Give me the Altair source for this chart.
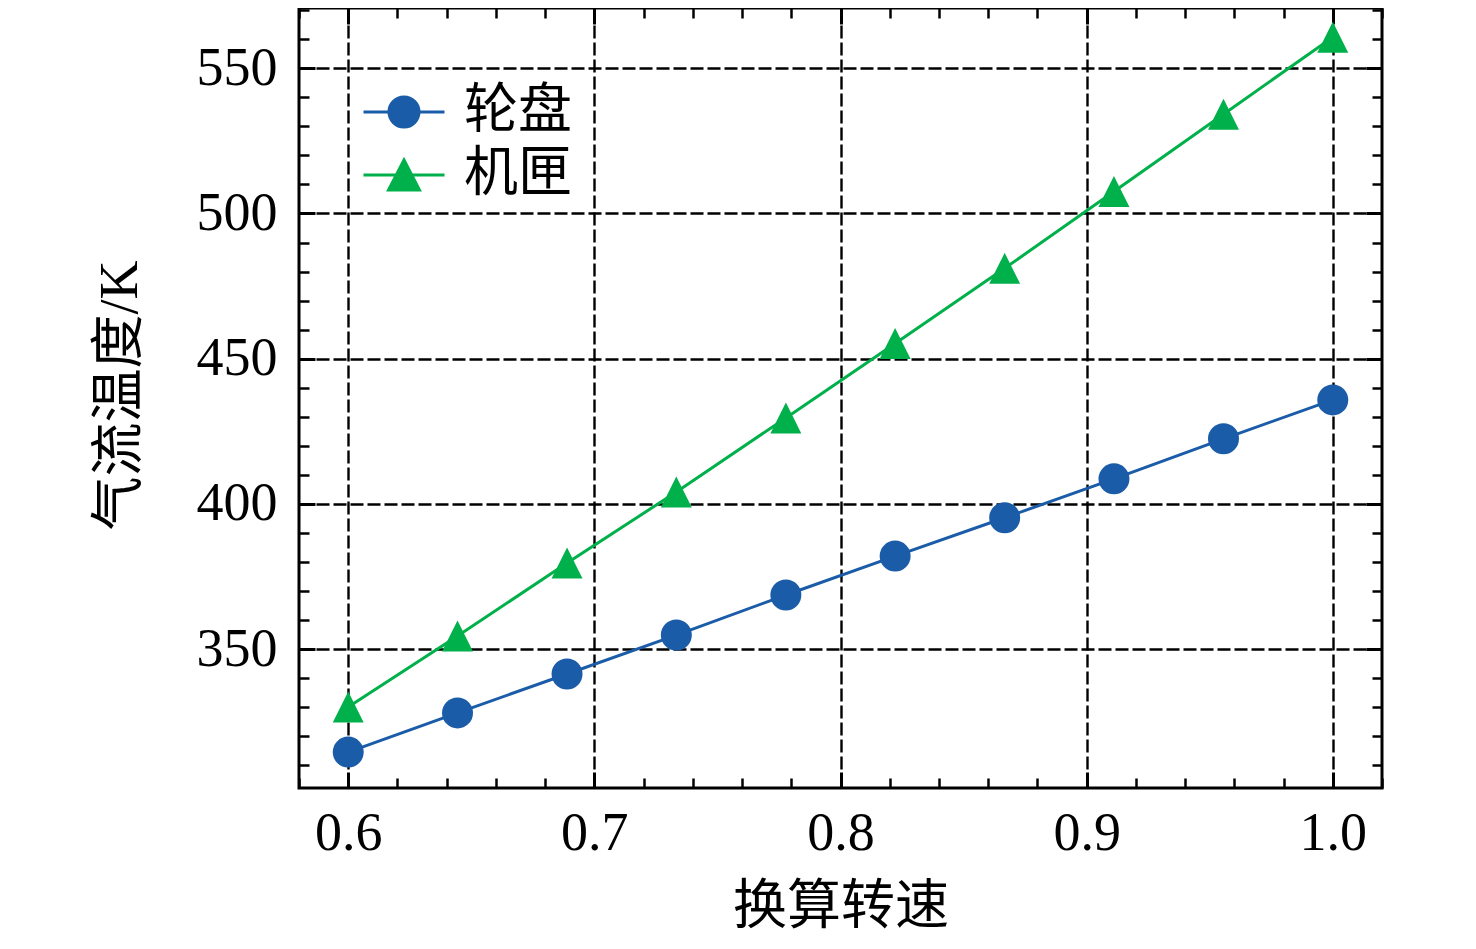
import altair as alt
import pandas as pd

# ---- data ----
speed = [0.6, 0.6444, 0.6889, 0.7333, 0.7778, 0.8222, 0.8667, 0.9111, 0.9556, 1.0]
disk = [314.5, 328.0, 341.4, 354.8, 368.6, 382.0, 395.2, 408.6, 422.4, 435.8]
casing = [330.0, 354.5, 379.6, 404.1, 429.6, 455.2, 481.1, 507.6, 534.2, 560.7]
series_names = ["轮盘", "机匣"]
colors = ["#1A5CA8", "#00B04A"]

x_major = [0.6, 0.7, 0.8, 0.9, 1.0]
x_minor = [0.58, 0.62, 0.64, 0.66, 0.68, 0.72, 0.74, 0.76, 0.78, 0.82,
           0.84, 0.86, 0.88, 0.92, 0.94, 0.96, 0.98, 1.02]
y_major = [350, 400, 450, 500, 550]
y_minor = [310, 320, 330, 340, 360, 370, 380, 390, 410, 420, 430, 440,
           460, 470, 480, 490, 510, 520, 530, 540, 560, 570]

x_title = "换算转速"
y_title = "气流温度/K"

df_disk = pd.DataFrame({"speed": speed, "temp": disk, "series": series_names[0]})
df_case = pd.DataFrame({"speed": speed, "temp": casing, "series": series_names[1]})
df_all = pd.concat([df_disk, df_case], ignore_index=True)

# ---- layout / style ----
W, H = 1083, 780
FONT = "Liberation Serif, Noto Sans CJK SC"
FS = 54
xs = alt.Scale(domain=[0.58, 1.02], zero=False, nice=False)
ys = alt.Scale(domain=[302.13, 570.77], zero=False, nice=False)

TRI = "M0,-1L1,1L-1,1Z"
LEG_CIRC = ("M-2.7,0L2.7,0M1,0C1,0.5523 0.5523,1 0,1C-0.5523,1 -1,0.5523 -1,0"
            "C-1,-0.5523 -0.5523,-1 0,-1C0.5523,-1 1,-0.5523 1,0Z")
LEG_TRI = "M-2.7,0L2.7,0M0,-1L1.03,1L-1.03,1Z"

GRID_W = 2.4
main_x = alt.Axis(
    orient="bottom", values=x_major, format=".1f",
    labelFont=FONT, labelFontSize=FS, labelColor="black", labelPadding=18,
    labelFlush=False, labelOverlap=False,
    ticks=False, tickSize=0, domain=False,
    grid=True, gridColor="black", gridDash=[13, 4], gridWidth=GRID_W, gridOpacity=1,
    title=x_title, titleFont=FONT, titleFontSize=FS, titleFontWeight="normal",
    titleColor="black", titleX=W / 2, titleY=119, titleAlign="center",
    titleBaseline="middle",
)
main_y = alt.Axis(
    orient="left", values=y_major, format="d",
    labelFont=FONT, labelFontSize=FS, labelColor="black", labelPadding=22,
    labelFlush=False, labelOverlap=False,
    ticks=False, tickSize=0, domain=False,
    grid=True, gridColor="black", gridDash=[13, 4], gridWidth=GRID_W, gridOpacity=1,
    title=y_title, titleFont=FONT, titleFontSize=FS, titleFontWeight="normal",
    titleColor="black", titleX=-179, titleY=387, titleAngle=270,
    titleAlign="center", titleBaseline="middle",
)


def tick_axis(orient, values, size, width, offset):
    return alt.Axis(orient=orient, offset=offset, values=values, labels=False,
                    domain=False, grid=False, ticks=True, tickSize=size,
                    tickWidth=width, tickColor="black", title=None)


def tick_layer(xa, ya):
    return alt.Chart(df_all).mark_point(opacity=0).encode(
        x=alt.X("speed:Q", scale=xs, axis=xa),
        y=alt.Y("temp:Q", scale=ys, axis=ya),
    )


# inward ticks on all four sides (axes flipped onto the opposite edge)
t1 = tick_layer(tick_axis("top", x_major, 16, 3, -H), tick_axis("right", y_major, 16, 3, -W))
t2 = tick_layer(tick_axis("top", x_minor, 10, 2.5, -H), tick_axis("right", y_minor, 10, 2.5, -W))
t3 = tick_layer(tick_axis("bottom", x_major, 16, 3, -H), tick_axis("left", y_major, 16, 3, -W))
t4 = tick_layer(tick_axis("bottom", x_minor, 10, 2.5, -H), tick_axis("left", y_minor, 10, 2.5, -W))

LINE_W = 3
blue_line = alt.Chart(df_disk).mark_line(color=colors[0], strokeWidth=LINE_W).encode(
    x=alt.X("speed:Q", scale=xs, axis=main_x),
    y=alt.Y("temp:Q", scale=ys, axis=main_y),
)
blue_pts = alt.Chart(df_disk).mark_point(filled=True, shape="circle", size=960,
                                         color=colors[0], opacity=1).encode(
    x=alt.X("speed:Q", scale=xs, axis=None),
    y=alt.Y("temp:Q", scale=ys, axis=None),
)
green_line = alt.Chart(df_case).mark_line(color=colors[1], strokeWidth=LINE_W).encode(
    x=alt.X("speed:Q", scale=xs, axis=None),
    y=alt.Y("temp:Q", scale=ys, axis=None),
)
green_pts = alt.Chart(df_case).mark_point(filled=True, shape=TRI, size=960,
                                          color=colors[1], opacity=1).encode(
    x=alt.X("speed:Q", scale=xs, axis=None),
    y=alt.Y("temp:Q", scale=ys, axis=None),
)


def leg():
    return alt.Legend(orient="none", legendX=78, legendY=77, title=None,
                      symbolSize=900, symbolStrokeWidth=3, symbolOpacity=1,
                      labelFont=FONT, labelFontSize=FS, labelColor="black",
                      labelOffset=33, rowPadding=9, padding=0)


legend_layer = alt.Chart(df_all).mark_point(filled=True, opacity=0).encode(
    x=alt.X("speed:Q", scale=xs, axis=None),
    y=alt.Y("temp:Q", scale=ys, axis=None),
    fill=alt.Fill("series:N", scale=alt.Scale(domain=series_names, range=colors), legend=leg()),
    stroke=alt.Stroke("series:N", scale=alt.Scale(domain=series_names, range=colors), legend=leg()),
    shape=alt.Shape("series:N", scale=alt.Scale(domain=series_names, range=[LEG_CIRC, LEG_TRI]), legend=leg()),
)

chart = (
    alt.layer(blue_line, green_line, blue_pts, green_pts, t1, t2, t3, t4, legend_layer)
    .resolve_axis(x="independent", y="independent")
    .properties(
        width=W, height=H,
        padding={"left": 291, "top": 0, "right": 80, "bottom": 150},
        autosize=alt.AutoSizeParams(type="none"),
    )
    .configure(font=FONT, view=alt.ViewConfig(stroke="black", strokeWidth=3))
)

chart.save("out.html", embed_options={"renderer": "svg", "actions": False})
